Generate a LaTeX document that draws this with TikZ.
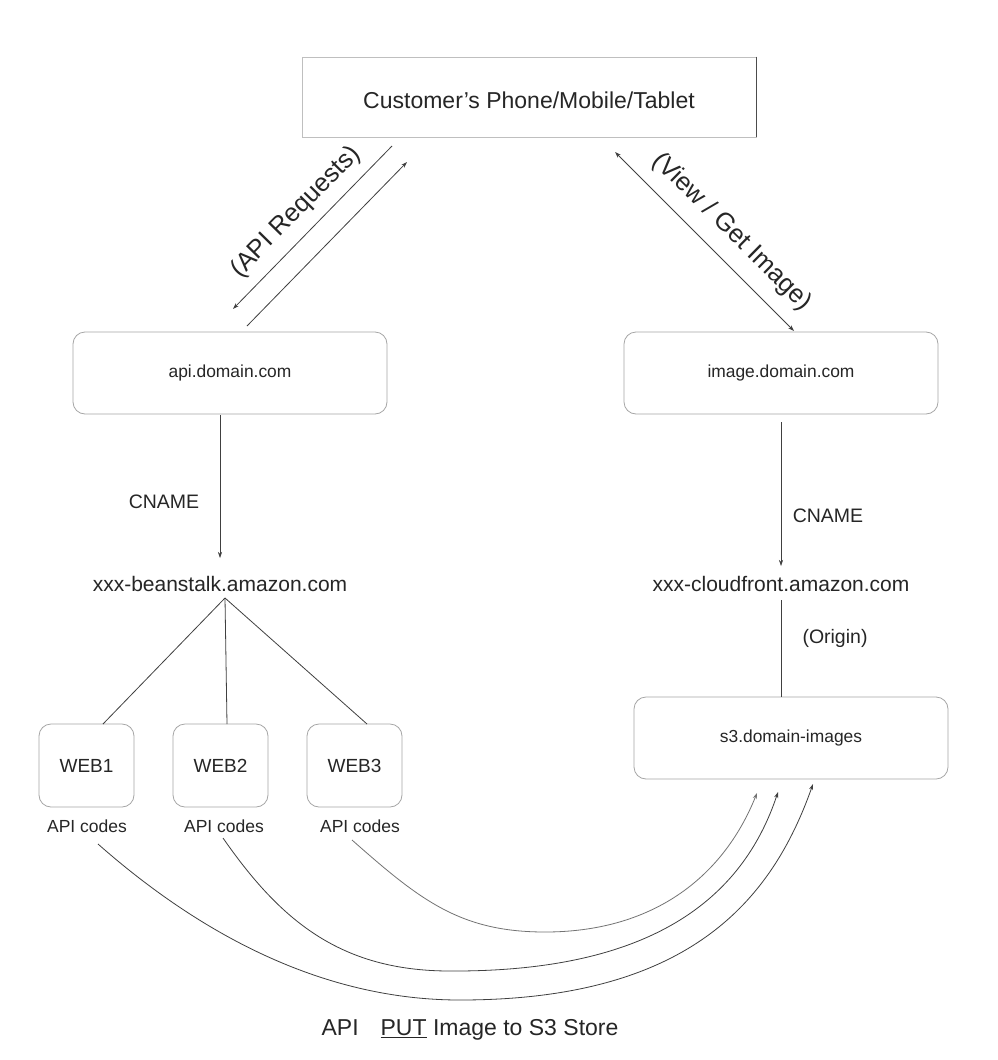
\documentclass[tikz,border=0pt]{standalone}
\usepackage{fontspec}
\setmainfont{Liberation Sans}
\usetikzlibrary{arrows.meta}
\begin{document}
\begin{tikzpicture}[x=1pt,y=-1pt,
  txt/.style={text=black!85, inner sep=0pt, font=\fontsize{#1}{#1}\selectfont},
  txt/.default=21,
  rbox/.style={draw=black!35, line width=0.8pt, rounded corners=12pt, inner sep=0pt},
  sbox/.style={draw=black!25, line width=0.8pt, inner sep=0pt},
  conn/.style={draw=black!75, line width=0.8pt},
  tip/.style={-{Stealth[length=6pt,width=4pt]}},
]
\useasboundingbox (0,0) rectangle (998,1060);
\fill[white] (0,0) rectangle (998,1060);

% boxes
\node[sbox, minimum width=454pt, minimum height=80pt] (cust) at (529,97) {};
\node[txt=23] at (529,100) {Customer's Phone/Mobile/Tablet};
\draw[black!70, line width=0.9pt] (cust.north east) -- (cust.south east);

\node[rbox, minimum width=314pt, minimum height=82pt] (api) at (230,373) {};
\node[txt=17.4] at (api.center) {api.domain.com};
\node[rbox, minimum width=314pt, minimum height=82pt] (img) at (781,373) {};
\node[txt=17.4] at (img.center) {image.domain.com};
\node[rbox, minimum width=314pt, minimum height=82pt] (s3) at (791,738) {};
\node[txt=17.4] at (s3.center) {s3.domain-images};

\node[rbox, minimum width=95pt, minimum height=83pt] (w1) at (86.5,765.5) {};
\node[rbox, minimum width=95pt, minimum height=83pt] (w2) at (220.5,765.5) {};
\node[rbox, minimum width=95pt, minimum height=83pt] (w3) at (354.5,765.5) {};
\node[txt=19] at (w1.center) {WEB1};
\node[txt=19] at (w2.center) {WEB2};
\node[txt=19] at (w3.center) {WEB3};
\node[txt=17.5] (c1) at (87,826) {API codes};
\node[txt=17.5] (c2) at (224,826) {API codes};
\node[txt=17.5] (c3) at (360,826) {API codes};

% texts
\node[txt=21] (bean) at (220,584) {xxx-beanstalk.amazon.com};
\node[txt=21] (cloud) at (781,584) {xxx-cloudfront.amazon.com};
\node[txt=19.5] (cn1) at (164,502) {CNAME};
\node[txt=19.5] (cn2) at (828,516) {CNAME};
\node[txt=19.5] (orig) at (835,638) {(Origin)};
\node[txt=25.5, rotate=45.5] (apireq) at (296,212) {(API Requests)};
\node[txt=25.5, rotate=-44.6] (view) at (732,232) {(View / Get Image)};
\node[txt=23] (put) at (470,1030) {API\hspace{22pt}\underline{PUT} Image to S3 Store};

% coordinates
\coordinate (a1s) at (392,146);
\coordinate (a1e) at (233,309);
\coordinate (a2s) at (247,326);
\coordinate (a2e) at (407,162);
\coordinate (vs) at (615,152);
\coordinate (ve) at (794,331);
\coordinate (l1s) at (220,415);
\coordinate (l1e) at (220,558);
\coordinate (r1s) at (781,422);
\coordinate (r1e) at (781,566);
\coordinate (o1) at (781,600);
\coordinate (apex) at (225,598);
\coordinate (t1) at (103,724);
\coordinate (t2) at (227,724);
\coordinate (t3) at (367,724);
\coordinate (k1) at (98,844);
\coordinate (k2) at (223,838);
\coordinate (k3) at (352,840);
\coordinate (e1) at (813,784);
\coordinate (e2) at (778,792);
\coordinate (e3) at (757,793);

% connectors
\draw[conn, tip] (a1s) -- (a1e);
\draw[conn, tip] (a2s) -- (a2e);
\draw[conn, {Stealth[length=6pt,width=4pt]}-{Stealth[length=6pt,width=4pt]}] (vs) -- (ve);
\draw[conn, line width=0.6pt, tip] (l1s) -- (l1e);
\draw[conn, line width=0.6pt, tip] (r1s) -- (r1e);
\draw[conn] (o1) -- (s3.north -| o1);
\draw[conn] (apex) -- (t1);
\draw[conn] (apex) -- (t2);
\draw[conn] (apex) -- (t3);

\draw[conn, tip] (k1) .. controls (208,941) and (330,1000) .. (460,1000)
   .. controls (690,1000) and (772,900) .. (e1);
\draw[conn, tip] (k2) .. controls (280,920) and (340,971) .. (450,971)
   .. controls (650,972) and (742,900) .. (e2);
\draw[conn, black!55, tip] (k3) .. controls (420,900) and (460,932) .. (545,932)
   .. controls (650,932) and (722,880) .. (e3);
\end{tikzpicture}
\end{document}
